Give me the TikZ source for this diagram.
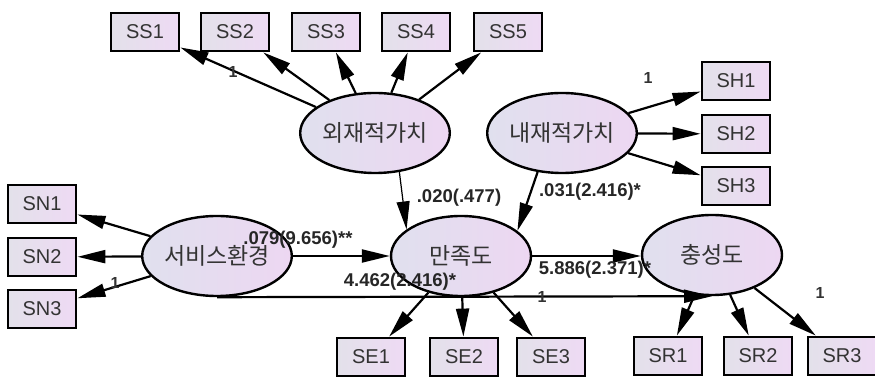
\documentclass[tikz,border=0pt]{standalone}
\usepackage{fontspec}
\setmainfont{Liberation Sans}
\newfontfamily\kor{Noto Sans CJK KR}
\usetikzlibrary{shapes,arrows.meta}

\definecolor{boxl}{HTML}{E3E1EA}
\definecolor{boxr}{HTML}{EEDAF4}
\definecolor{elll}{HTML}{E0E0EE}
\definecolor{ellr}{HTML}{EDD7F2}
\definecolor{txt}{HTML}{333333}

\begin{document}
\begin{tikzpicture}[x=1pt,y=-1pt,
    obs/.style={draw, line width=2.8pt, minimum width=68pt, minimum height=38pt,
        inner sep=0pt, left color=boxl, right color=boxr, text=txt,
        font=\fontsize{20}{20}\selectfont},
    lat/.style={ellipse, draw, line width=2.4pt, minimum width=140pt,
        minimum height=80pt, inner sep=0pt, left color=elll, right color=ellr,
        text=txt, font=\kor\fontsize{23}{23}\selectfont},
    link/.style={-{Triangle[length=28pt,width=13pt]}, line width=2.2pt},
    est/.style={font=\bfseries\fontsize{18.5}{18.5}\selectfont, text=black!85},
    one/.style={font=\bfseries\fontsize{16}{16}\selectfont, text=txt}]
    \useasboundingbox (0,0) rectangle (875,379);

    % Latent variables
    \node [lat] (ext) at (375,133) {외재적가치};
    \node [lat] (intr) at (562,133) {내재적가치};
    \node [lat] (svc) at (217,256) {서비스환경};
    \node [lat] (sat) at (461,256) {만족도};
    \node [lat] (loy) at (712,255) {충성도};

    % Indicators
    \node [obs] (ss1) at (145,32) {SS1};
    \node [obs] (ss2) at (235,32) {SS2};
    \node [obs] (ss3) at (326,32) {SS3};
    \node [obs] (ss4) at (416,32) {SS4};
    \node [obs] (ss5) at (508,32) {SS5};
    \node [obs] (sh1) at (736,81) {SH1};
    \node [obs] (sh2) at (736,134) {SH2};
    \node [obs] (sh3) at (736,186) {SH3};
    \node [obs] (sn1) at (42,204) {SN1};
    \node [obs] (sn2) at (42,257) {SN2};
    \node [obs] (sn3) at (42,309) {SN3};
    \node [obs] (se1) at (371,357) {SE1};
    \node [obs] (se2) at (464,357) {SE2};
    \node [obs] (se3) at (551,357) {SE3};
    \node [obs] (sr1) at (668,356) {SR1};
    \node [obs] (sr2) at (758,356) {SR2};
    \node [obs] (sr3) at (842,356) {SR3};

    % Measurement paths
    \foreach \i in {1,...,5}
        \draw [link] (ext) -- (ss\i);
    \foreach \i in {1,2,3}
        \draw [link] (intr) -- (sh\i);
    \foreach \i in {1,2,3}
        \draw [link] (svc) -- (sn\i);
    \foreach \i in {1,2,3}
        \draw [link] (sat) -- (se\i);
    \foreach \i in {1,2,3}
        \draw [link] (loy) -- (sr\i);

    % Structural paths
    \draw [link] (svc.east) -- (sat.west);
    \draw [link, line width=1.2pt] (ext.-58) -- (sat.154);
    \draw [link] (intr.-122) -- (sat.24);
    \draw [link] (sat.east) -- (sat.east -| loy.west);
    \draw [link] (svc.south) -- (loy.south);

    % Estimates
    \node [est] (e1) at (298,240) {.079(9.656)**};
    \node [est] (e2) at (459,198) {.020(.477)};
    \node [est] (e3) at (590,192) {.031(2.416)*};
    \node [est] (e4) at (595,270) {5.886(2.371)*};
    \node [est] (e5) at (400,282) {4.462(2.416)*};
    \node [one] (f1) at (233,72) {1};
    \node [one] (f2) at (648,78) {1};
    \node [one] (f3) at (115,283) {1};
    \node [one] (f4) at (542,297) {1};
    \node [one] (f5) at (820,293) {1};
\end{tikzpicture}
\end{document}
